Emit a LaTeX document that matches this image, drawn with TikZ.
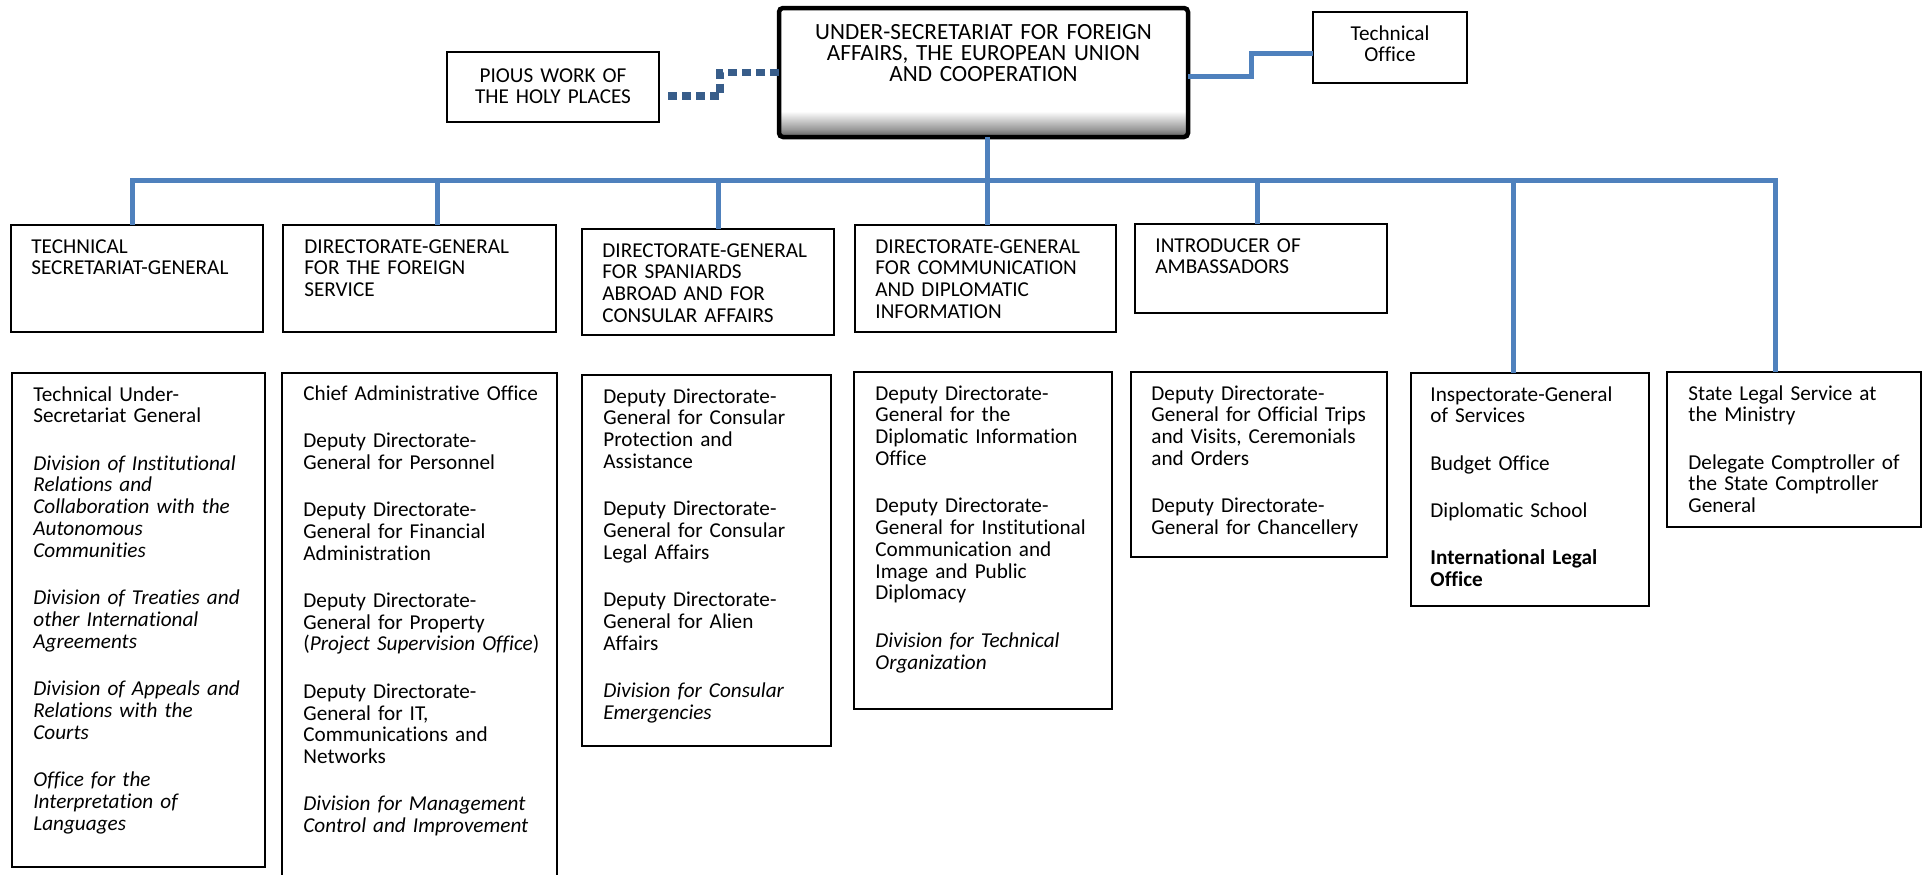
\documentclass[tikz,border=0pt]{standalone}
\usepackage{fontspec}
\setmainfont{Carlito}[Ligatures=NoCommon]
\definecolor{cblue}{RGB}{79,129,189}
\definecolor{dblue}{RGB}{56,93,138}
\pgfdeclareverticalshading{mainsh}{100bp}{color(0bp)=(black!65); color(25bp)=(black!65); color(28bp)=(black!40); color(35bp)=(white); color(100bp)=(white)}
\newcommand\pgap{12.75pt}
\tikzset{
  obx/.style={draw=black, line width=1pt, anchor=north west, inner sep=0pt, outer sep=0pt},
  txt/.style={anchor=base west, inner sep=0pt, align=left, font=\fontsize{10.6pt}{10.9pt}\selectfont},
  ctxt/.style={anchor=base, inner sep=0pt, align=center, font=\fontsize{10.6pt}{10.9pt}\selectfont},
  cl/.style={draw=cblue, line width=2.5pt},
  dl/.style={draw=dblue, line width=3.75pt, dash pattern=on 4.5pt off 2.5pt},
}
\begin{document}
\begin{tikzpicture}[x=0.5pt, y=-0.5pt]
\useasboundingbox (0,0) rectangle (1930,874);

% top row
\node[obx, minimum width=106pt, minimum height=35pt] (pious) at (447,52) {};
\node[ctxt, text width=100pt] (piousT) at (553,82) {PIOUS WORK OF\\THE HOLY PLACES};
\node[obx, line width=2.25pt, rounded corners=2pt, shading=mainsh, minimum width=204.5pt, minimum height=64.5pt] (main) at (779,8) {};
\node[ctxt, text width=200pt, font=\fontsize{11.6pt}{10.6pt}\selectfont] (mainT) at (983.5,39) {UNDER-SECRETARIAT FOR FOREIGN\\AFFAIRS, THE EUROPEAN UNION\\AND COOPERATION};
\node[obx, minimum width=77pt, minimum height=35.5pt] (techoff) at (1313,12) {};
\node[ctxt, text width=70pt] (techoffT) at (1390,40) {Technical\\Office};

% second row
\node[obx, minimum width=126pt, minimum height=53.5pt] (b1) at (11,225) {};
\node[txt, text width=120pt] (b1T) at (31,253) {TECHNICAL\\SECRETARIAT-GENERAL};
\node[obx, minimum width=136.5pt, minimum height=53.5pt] (b2) at (283,225) {};
\node[txt, text width=126pt] (b2T) at (304,253) {DIRECTORATE-GENERAL\\FOR THE FOREIGN\\SERVICE};
\node[obx, minimum width=126pt, minimum height=53pt] (b3) at (582,229) {};
\node[txt, text width=116pt] (b3T) at (602,257) {DIRECTORATE-GENERAL\\FOR SPANIARDS\\ABROAD AND FOR\\CONSULAR AFFAIRS};
\node[obx, minimum width=130.5pt, minimum height=53.5pt] (b4) at (855,225) {};
\node[txt, text width=120pt] (b4T) at (875,253) {DIRECTORATE-GENERAL\\FOR COMMUNICATION\\AND DIPLOMATIC\\INFORMATION};
\node[obx, minimum width=126pt, minimum height=44.5pt] (b5) at (1135,224) {};
\node[txt, text width=116pt] (b5T) at (1155,252) {INTRODUCER OF\\AMBASSADORS};

% third row
\node[obx, minimum width=126.5pt, minimum height=247pt] (l1) at (12,373) {};
\node[txt, text width=118pt] (l1T) at (33,401) {Technical Under-\\Secretariat General\\[\pgap]\itshape Division of Institutional\\Relations and\\Collaboration with the\\Autonomous\\Communities\\[\pgap]Division of Treaties and\\other International\\Agreements\\[\pgap]Division of Appeals and\\Relations with the\\Courts\\[\pgap]Office for the\\Interpretation of\\Languages};
\node[obx, minimum width=137.5pt, minimum height=258.5pt] (l2) at (282,373) {};
\node[txt, text width=128pt] (l2T) at (303,400) {Chief Administrative Office\\[\pgap]Deputy Directorate-\\General for Personnel\\[\pgap]Deputy Directorate-\\General for Financial\\Administration\\[\pgap]Deputy Directorate-\\General for Property\\(\textit{Project Supervision Office})\\[\pgap]Deputy Directorate-\\General for IT,\\Communications and\\Networks\\[\pgap]\itshape Division for Management\\Control and Improvement};
\node[obx, minimum width=124.5pt, minimum height=185.5pt] (l3) at (582,375) {};
\node[txt, text width=116pt] (l3T) at (603,403) {Deputy Directorate-\\General for Consular\\Protection and\\Assistance\\[\pgap]Deputy Directorate-\\General for Consular\\Legal Affairs\\[\pgap]Deputy Directorate-\\General for Alien\\Affairs\\[\pgap]\itshape Division for Consular\\Emergencies};
\node[obx, minimum width=129pt, minimum height=168.5pt] (l4) at (854,372) {};
\node[txt, text width=120pt] (l4T) at (875,400) {Deputy Directorate-\\General for the\\Diplomatic Information\\Office\\[\pgap]Deputy Directorate-\\General for Institutional\\Communication and\\Image and Public\\Diplomacy\\[\pgap]\itshape Division for Technical\\Organization};
\node[obx, minimum width=128pt, minimum height=92.5pt] (l5) at (1131,372) {};
\node[txt, text width=120pt] (l5T) at (1151,400) {Deputy Directorate-\\General for Official Trips\\and Visits, Ceremonials\\and Orders\\[\pgap]Deputy Directorate-\\General for Chancellery};
\node[obx, minimum width=119pt, minimum height=116.5pt] (l6) at (1411,373) {};
\node[txt, text width=112pt] (l6T) at (1430,401) {Inspectorate-General\\of Services\\[\pgap]Budget Office\\[\pgap]Diplomatic School\\[\pgap]\bfseries International Legal\\Office};
\node[obx, minimum width=127pt, minimum height=77.5pt] (l7) at (1667,372) {};
\node[txt, text width=118pt] (l7T) at (1688,400) {State Legal Service at\\the Ministry\\[\pgap]Delegate Comptroller of\\the State Comptroller\\General};

% connectors
\coordinate (m1) at ([yshift=-1.75pt]main.east);
\coordinate (t1) at ([yshift=-2.75pt]techoff.west);
\draw[cl] (m1) -| ([xshift=-31pt]t1) -- (t1);
\coordinate (m2) at (main.west);
\coordinate (p2) at ([xshift=4.5pt,yshift=-4.5pt]pious.east);
\draw[dl] (m2) -| ([xshift=26pt]p2) -- (p2);

\coordinate (busR) at (1775,180);
\coordinate (d1) at ([xshift=-2.5pt]b1.north);
\coordinate (d7) at ([xshift=-9.5pt]l7.north);
\draw[cl] (d1) |- (busR) -- (d7);
\coordinate (d2) at ([xshift=8.75pt]b2.north);
\draw[cl] (d2) -- (d2 |- busR);
\coordinate (d3) at ([xshift=5pt]b3.north);
\draw[cl] (d3) -- (d3 |- busR);
\coordinate (m3) at ([xshift=1.75pt]main.south);
\draw[cl] (m3) -- (m3 |- b4.north);
\coordinate (d5) at ([xshift=-2pt]b5.north);
\draw[cl] (d5) -- (d5 |- busR);
\coordinate (d6) at ([xshift=-8.5pt]l6.north);
\draw[cl] (d6) -- (d6 |- busR);
\end{tikzpicture}
\end{document}
